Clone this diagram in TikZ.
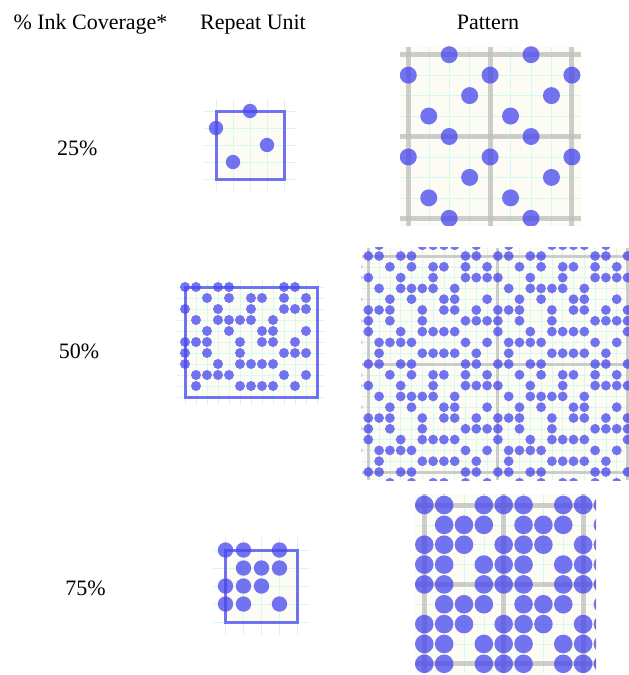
\documentclass[tikz,border=0pt]{standalone}
\usepackage{fontspec}
\setmainfont{Liberation Serif}
\definecolor{ink}{RGB}{70,70,238}
\definecolor{ivory}{RGB}{252,252,245}
\definecolor{mint}{RGB}{215,248,238}
\definecolor{tilegray}{RGB}{190,190,190}
\tikzset{
  inkdot/.style={fill=ink,fill opacity=0.75},
  unitbox/.style={draw=ink,draw opacity=0.75,line width=3pt},
  faint/.style={draw=mint,line width=0.5pt},
  tileline/.style={draw=tilegray,draw opacity=0.75},
  txtlabel/.style={font=\fontsize{22}{26}\selectfont,anchor=base,inner sep=0pt}
}
\def\dotsA{0/{2},1/{0},2/{3},3/{1}}
\def\dotsB{0/{0,1,3,4,9,10},1/{2,4,6,7,9,11},2/{0,3,6,9,10,11},3/{1,3,4,5,6,8},4/{2,4,7,8,11},5/{0,1,2,5,7,8,10},6/{0,2,5,9,10,11},7/{0,3,5,6,7,8},8/{1,2,3,4,9,11},9/{1,5,6,7,8,10}}
\def\dotsC{0/{0,1,3},1/{1,2,3},2/{0,1,2},3/{0,1,3}}
% #1 x0, #2 y0, #3 cell, #4 radius, #5 list
\newcommand\inkdots[5]{%
  \foreach \rr/\cols in #5 {\foreach \cc in \cols {%
    \fill[inkdot] ({#1+\cc*#3},{#2+\rr*#3}) circle[radius=#4pt];}}}
% repeat unit: #1 x0, #2 y0, #3 cell, #4 ncols, #5 nrows, #6 radius, #7 list
\newcommand\repunit[7]{%
  \fill[ivory] (#1,#2) rectangle ({#1+#4*#3},{#2+#5*#3});
  \foreach \k in {0,...,#4}{\draw[faint] ({#1+\k*#3},{#2-0.7*#3}) -- ({#1+\k*#3},{#2+(#5+0.7)*#3});}
  \foreach \k in {0,...,#5}{\draw[faint] ({#1-0.7*#3},{#2+\k*#3}) -- ({#1+(#4+0.7)*#3},{#2+\k*#3});}
  \draw[unitbox] (#1,#2) rectangle ({#1+#4*#3},{#2+#5*#3});
  \inkdots{#1}{#2}{#3}{#6}{#7}}
% pattern: #1 x0, #2 y0, #3 cell, #4 ncols, #5 nrows, #6 radius, #7 list, #8 clip x1, #9 clip y1
\newcommand\inkpattern[9]{%
  \begin{scope}
  \clip (#8,#9) rectangle (\px,\py);
  \fill[ivory] (#8,#9) rectangle (\px,\py);
  \foreach \k in {-2,...,30}{\draw[faint] ({#1+\k*#3},#9) -- ({#1+\k*#3},\py);
     \draw[faint] (#8,{#2+\k*#3}) -- (\px,{#2+\k*#3});}
  \foreach \k in {0,...,2}{\draw[tileline,line width=\plw] ({#1+\k*#4*#3},#9) -- ({#1+\k*#4*#3},\py);
     \draw[tileline,line width=\plw] (#8,{#2+\k*#5*#3}) -- (\px,{#2+\k*#5*#3});}
  \foreach \i in {-1,...,2}{\foreach \j in {-1,...,2}{%
     \inkdots{#1+\i*#4*#3}{#2+\j*#5*#3}{#3}{#6}{#7}}}
  \end{scope}}
\begin{document}
\begin{tikzpicture}[x=1pt,y=-1pt]
\useasboundingbox (0,0) rectangle (629,675);
% headers
\node[txtlabel] (hcov) at (90.5,29) {\% Ink Coverage*};
\node[txtlabel] (hrep) at (253,29) {Repeat Unit};
\node[txtlabel] (hpat) at (488,29) {Pattern};
% row labels
\node[txtlabel] (l25) at (77.3,155) {25\%};
\node[txtlabel] (l50) at (79,358.5) {50\%};
\node[txtlabel] (l75) at (85.5,595) {75\%};
% repeat units
\repunit{216}{111}{17}{4}{4}{7.2}{\dotsA}
\repunit{185}{287}{11}{12}{10}{5}{\dotsB}
\repunit{225.5}{550}{18}{4}{4}{7.7}{\dotsC}
% patterns
\def\px{581}\def\py{225.5}\def\plw{5pt}
\inkpattern{408.3}{54.7}{20.45}{4}{4}{8.5}{\dotsA}{400}{46.5}
\def\px{629}\def\py{480}\def\plw{3pt}
\inkpattern{368.3}{256}{10.8}{12}{10}{4.9}{\dotsB}{361.5}{247.5}
\def\px{596}\def\py{673}\def\plw{5pt}
\inkpattern{424.3}{505}{19.85}{4}{4}{9.3}{\dotsC}{415}{494}
\end{tikzpicture}
\end{document}
